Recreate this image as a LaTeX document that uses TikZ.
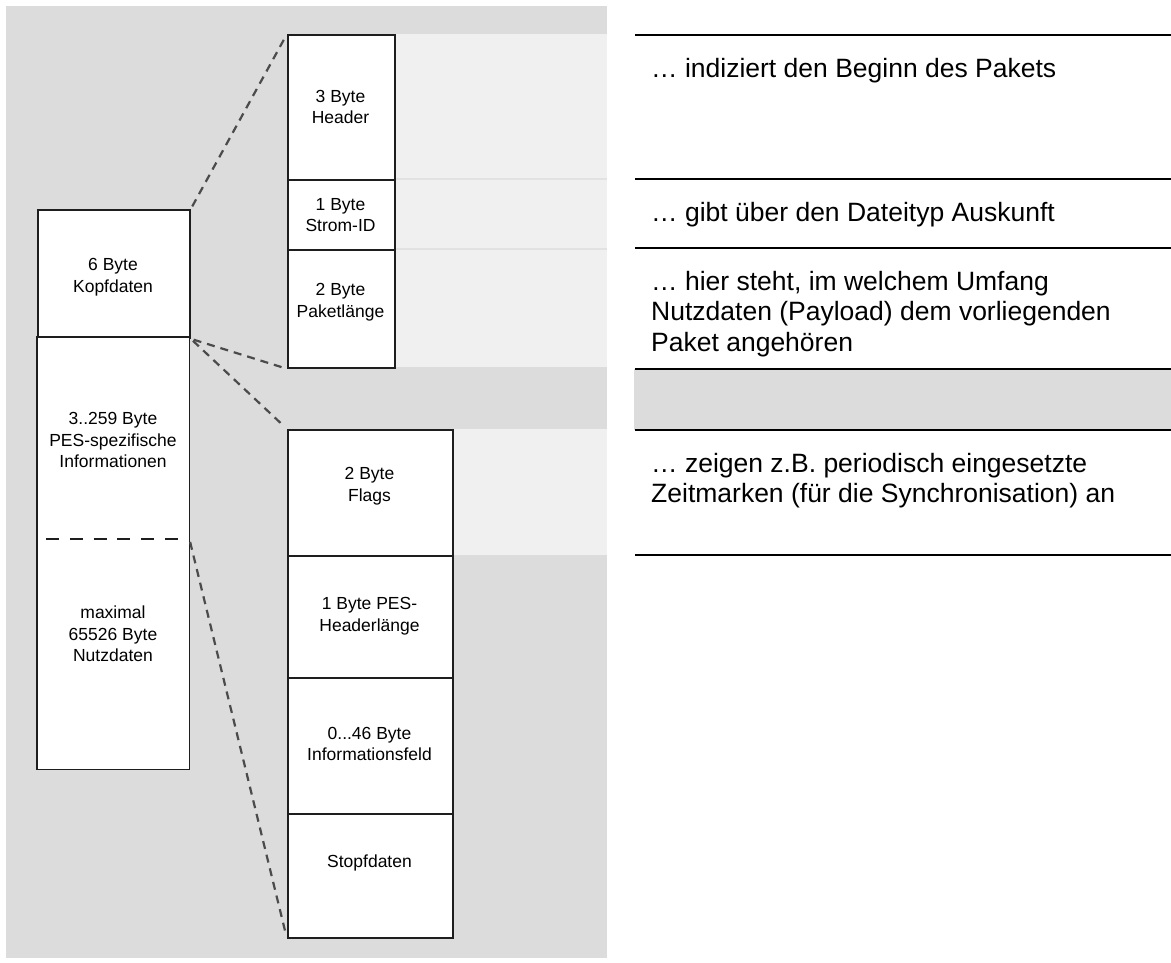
\documentclass[tikz,border=0pt]{standalone}
\usepackage{fontspec}
\setmainfont{Liberation Sans}
\definecolor{bggray}{RGB}{220,220,220}
\definecolor{bandgray}{RGB}{240,240,240}
\definecolor{bandline}{RGB}{226,226,226}
\definecolor{boxline}{RGB}{30,30,30}
\definecolor{dashgray}{RGB}{75,75,75}
\begin{document}
\begin{tikzpicture}[x=1pt,y=-1pt,
  field/.style={draw=boxline,line width=1.8pt,fill=white,inner sep=0pt,anchor=north west},
  blank/.style={draw=none,fill=white,inner sep=0pt,anchor=north west},
  boxtext/.style={font=\fontsize{17.5}{21.5}\selectfont,align=center,inner sep=0pt},
  note/.style={font=\fontsize{26.5}{30.5}\selectfont,align=left,inner sep=0pt,anchor=north west},
  rule/.style={line width=2pt,black},
  zoomline/.style={draw=dashgray,line width=2.2pt,dash pattern=on 8pt off 6pt,shorten <=3pt,shorten >=3pt},
]
\useasboundingbox (0,0) rectangle (1171,963);
\fill[white] (0,0) rectangle (1171,963);
% grey panel behind the packet structure
\fill[bggray] (6,6) rectangle (607,958);
% light bands next to the described fields
\fill[bandgray] (394,34) rectangle (607,367);
\fill[bandgray] (452,429) rectangle (607,555);
\draw[bandline,line width=2pt] (394,179) -- (607,179);
\draw[bandline,line width=2pt] (394,249) -- (607,249);

% PES packet (left column)
\node[field,minimum width=152pt,minimum height=128pt] (kopf) at (37,209) {};
\node[blank,minimum width=152pt,minimum height=202pt] (pes) at (37,337) {};
\node[blank,minimum width=152pt,minimum height=230pt] (nutz) at (37,539) {};
\draw[boxline,line width=1.8pt] (pes.north west) rectangle (nutz.south east);
\draw[boxline,line width=1.6pt,dash pattern=on 13pt off 10.8pt]
  ([xshift=9pt]nutz.north west) -- ([xshift=-11pt]nutz.north east);
\node[boxtext] (kopftxt) at (113,277) {6 Byte\\Kopfdaten};
\node[boxtext] (pestxt) at (113,440) {3..259 Byte\\PES-spezifische\\Informationen};
\node[boxtext] (nutztxt) at (113,634) {maximal\\65526 Byte\\Nutzdaten};

% header fields (upper middle column)
\node[field,minimum width=107pt,minimum height=145pt] (hdr) at (287,34) {};
\node[field,minimum width=107pt,minimum height=70pt] (sid) at (287,179) {};
\node[field,minimum width=107pt,minimum height=118pt] (plen) at (287,249) {};
\node[boxtext] (hdrtxt) at (340.5,107) {3 Byte\\Header};
\node[boxtext] (sidtxt) at (340.5,215) {1 Byte\\Strom-ID};
\node[boxtext] (plentxt) at (340.5,302) {2 Byte\\Paketlänge};

% PES-specific fields (lower middle column)
\node[field,minimum width=165pt,minimum height=126pt] (flags) at (287,429) {};
\node[field,minimum width=165pt,minimum height=122pt] (peshl) at (287,555) {};
\node[field,minimum width=165pt,minimum height=136pt] (info) at (287,677) {};
\node[field,minimum width=165pt,minimum height=124pt] (stopf) at (287,813) {};
\node[boxtext] (flagstxt) at (369.5,486) {2 Byte\\Flags};
\node[boxtext] (peshltxt) at (369.5,616) {1 Byte PES-\\Headerlänge};
\node[boxtext] (infotxt) at (369.5,744) {0...46 Byte\\Informationsfeld};
\node[boxtext] (stopftxt) at (369.5,863) {Stopfdaten};

% zoom connectors
\draw[zoomline] (kopf.north east) -- (hdr.north west);
\draw[zoomline] (kopf.south east) -- (plen.south west);
\draw[zoomline] (kopf.south east) -- (flags.north west);
\draw[zoomline] (nutz.north east) -- (stopf.south west);

% description table (right)
\fill[bggray] (634,369) rectangle (1171,430);
\foreach \yy in {35,179,248,369,430,555}
  \draw[rule] (635,\yy) -- (1171,\yy);
\node[note] (n1) at (651,58) {… indiziert den Beginn des Pakets};
\node[note] (n2) at (651,202) {… gibt über den Dateityp Auskunft};
\node[note] (n3) at (651,271) {… hier steht, im welchem Umfang\\Nutzdaten (Payload) dem vorliegenden\\Paket angehören};
\node[note] (n4) at (651,453) {… zeigen z.B. periodisch eingesetzte\\Zeitmarken (für die Synchronisation) an};
\end{tikzpicture}
\end{document}
